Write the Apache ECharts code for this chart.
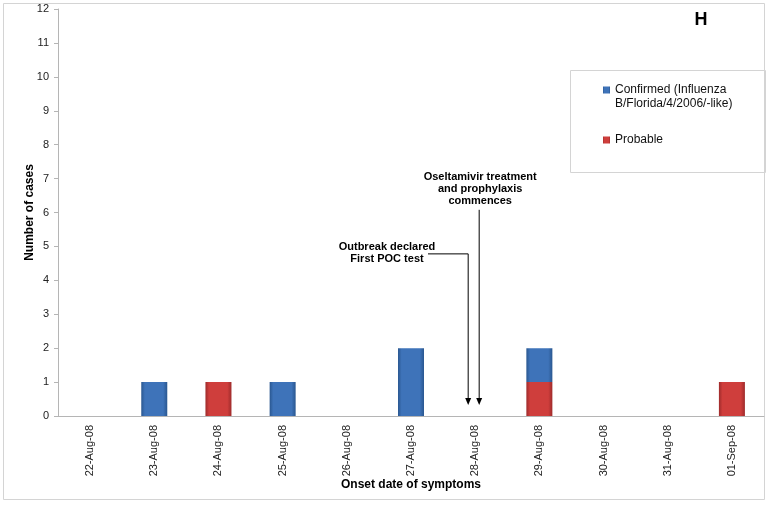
<!DOCTYPE html>
<html>
<head>
<meta charset="utf-8">
<script src="https://cdn.jsdelivr.net/npm/echarts@6/dist/echarts.min.js"></script>
<style>
html,body{margin:0;padding:0;background:#fff;}
#main{width:770px;height:505px;}
</style>
</head>
<body>
<div id="main"></div>
<script>
var categories = ['22-Aug-08','23-Aug-08','24-Aug-08','25-Aug-08','26-Aug-08','27-Aug-08','28-Aug-08','29-Aug-08','30-Aug-08','31-Aug-08','01-Sep-08'];
var confirmedName = 'Confirmed (Influenza B/Florida/4/2006/-like)';
var probableName = 'Probable';
var confirmed = [0,1,0,1,0,2,0,1,0,0,0];
var probable  = [0,0,1,0,0,0,0,1,0,0,1];
var yTicks = [0,1,2,3,4,5,6,7,8,9,10,11,12];
var annotations = [
  { lines: ['Outbreak declared','First POC test'], date: '28-Aug-08', topValue: 4.78 },
  { lines: ['Oseltamivir treatment','and prophylaxis','commences'], date: '28-Aug-08', topValue: 6.08 }
];

var font = 'Liberation Sans, Arial, sans-serif';
function grad(edge, mid){
  return new echarts.graphic.LinearGradient(0,0,1,0,[
    {offset:0,color:edge},{offset:0.14,color:mid},{offset:0.84,color:mid},{offset:1,color:edge}
  ]);
}
var chart = echarts.init(document.getElementById('main'), null, {renderer:'canvas'});
chart.setOption({
  animation:false,
  backgroundColor:'#fff',
  textStyle:{fontFamily:font},
  grid:{left:58, right:6, top:9, bottom:89, containLabel:false},
  legend:{
    data:[confirmedName, probableName],
    orient:'vertical',
    left:598, top:64,
    itemWidth:7, itemHeight:7,
    itemGap:22,
    icon:'rect',
    formatter:function(n){ return n===confirmedName ? ' \nConfirmed (Influenza\nB/Florida/4/2006/-like)' : n; },
    textStyle:{fontSize:12, color:'#111', fontFamily:font, lineHeight:14}
  },
  xAxis:{
    type:'category',
    data:categories,
    name:'Onset date of symptoms',
    nameLocation:'middle',
    nameGap:63,
    nameMoveOverlap:false,
    nameTextStyle:{fontSize:12, fontWeight:'bold', color:'#000', fontFamily:font},
    axisLine:{lineStyle:{color:'#b5b5b5'}},
    axisTick:{length:5, lineStyle:{color:'#b5b5b5'}},
    axisLabel:{rotate:90, fontSize:11, color:'#222', margin:9, fontFamily:font},
    splitLine:{show:false}
  },
  yAxis:{
    type:'value',
    min:yTicks[0], max:yTicks[yTicks.length-1], interval:1,
    name:'Number of cases',
    nameLocation:'middle',
    nameGap:22,
    nameMoveOverlap:false,
    nameTextStyle:{fontSize:12, fontWeight:'bold', color:'#000', fontFamily:font},
    axisLine:{show:true, lineStyle:{color:'#b5b5b5'}},
    axisTick:{show:true, length:4, lineStyle:{color:'#b5b5b5'}},
    axisLabel:{fontSize:11, color:'#222', margin:9, fontFamily:font},
    splitLine:{show:false}
  },
  series:[
    {name:probableName, type:'bar', stack:'c', data:probable, barWidth:26,
     itemStyle:{color:grad('#9e2b2b','#cf3e3c')}},
    {name:confirmedName, type:'bar', stack:'c', data:confirmed, barWidth:26,
     itemStyle:{color:grad('#2a5790','#3e73b9')}}
  ]
});

function buildGraphics(){
  var g = [];
  g.push({type:'rect', shape:{x:3.5,y:3.5,width:761,height:496}, style:{fill:null, stroke:'#d4d4d4', lineWidth:1}, silent:true});
  g.push({type:'rect', shape:{x:570.5,y:70.5,width:195,height:102}, style:{fill:null, stroke:'#d4d4d4', lineWidth:1}, silent:true});
  g.push({type:'text', x:701, y:20, style:{text:'H', font:'bold 18px '+font, fill:'#000', align:'center', verticalAlign:'middle'}});

  var base = chart.convertToPixel({xAxisIndex:0,yAxisIndex:0}, [annotations[0].date, 0]);
  var cx = base[0];
  var bottomY = base[1] - 11;
  var a1 = annotations[0];
  var x1 = cx - 7;
  var top1 = chart.convertToPixel({yAxisIndex:0}, a1.topValue);
  g.push({type:'polyline', shape:{points:[[428,top1],[x1,top1],[x1,bottomY-6]]}, style:{stroke:'#000', lineWidth:1, fill:null}});
  g.push({type:'polygon', shape:{points:[[x1-3,bottomY-7],[x1+3,bottomY-7],[x1,bottomY]]}, style:{fill:'#000'}});
  a1.lines.forEach(function(t,i){
    g.push({type:'text', x:387, y:top1-7+i*12, style:{text:t, font:'bold 11px '+font, fill:'#000', align:'center', verticalAlign:'middle'}});
  });
  var a2 = annotations[1];
  var x2 = cx + 4;
  var top2 = chart.convertToPixel({yAxisIndex:0}, a2.topValue);
  g.push({type:'line', shape:{x1:x2,y1:top2,x2:x2,y2:bottomY-6}, style:{stroke:'#000', lineWidth:1}});
  g.push({type:'polygon', shape:{points:[[x2-3,bottomY-7],[x2+3,bottomY-7],[x2,bottomY]]}, style:{fill:'#000'}});
  a2.lines.forEach(function(t,i){
    g.push({type:'text', x:x2+1, y:top2-33+i*12, style:{text:t, font:'bold 11px '+font, fill:'#000', align:'center', verticalAlign:'middle'}});
  });
  chart.setOption({graphic:g});
}
buildGraphics();
</script>
</body>
</html>
